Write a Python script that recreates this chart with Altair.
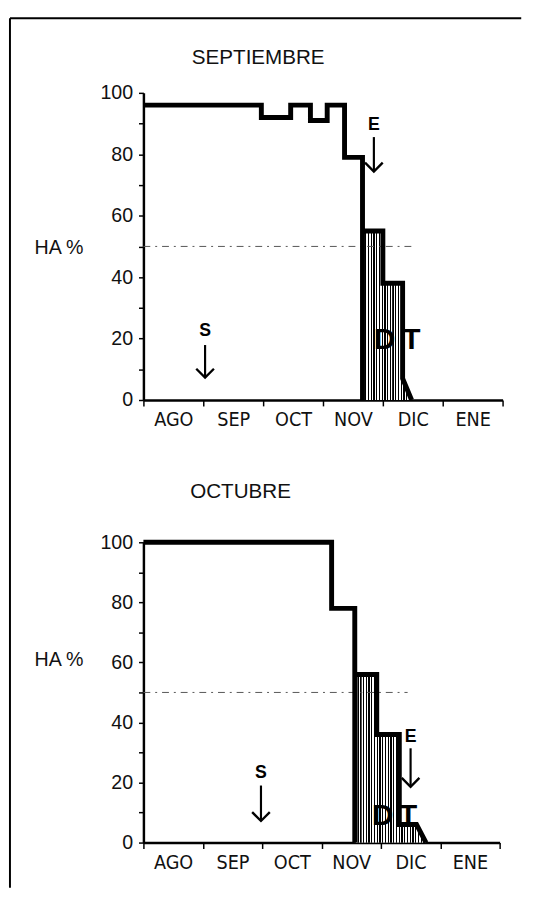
import json
import altair as alt
import pandas as pd

# ---------------- data ----------------
MONTHS = ["AGO", "SEP", "OCT", "NOV", "DIC", "ENE"]
MONTH_EDGES = [0, 1, 2, 3, 4, 5, 6]
Y_TICKS = [0, 10, 20, 30, 40, 50, 60, 70, 80, 90, 100]
Y_LABEL = "HA %"

SEP_TITLE = "SEPTIEMBRE"
SEP_CURVE_X = [0, 1.97, 1.97, 2.46, 2.46, 2.79, 2.79, 3.07, 3.07, 3.36, 3.36, 3.66, 3.66, 3.66, 4.0, 4.0, 4.33, 4.33, 4.48]
SEP_CURVE_Y = [96, 96, 92, 92, 96, 96, 91, 91, 96, 96, 79, 79, 0, 55, 55, 38, 38, 7, 0]
SEP_DT_X = [3.66, 4.0, 4.0, 4.33, 4.33, 4.48]
SEP_DT_Y = [55, 55, 38, 38, 7, 0]
SEP_REF_LEVEL = [50]
SEP_REF_END = [4.5]
SEP_ARROW_TEXT = ["S", "E"]
SEP_ARROW_X = [1.03, 3.85]
SEP_ARROW_LABEL_Y = [22.4, 89.6]
SEP_ARROW_TOP_Y = [17.9, 85.6]
SEP_ARROW_TIP_Y = [7.3, 74.4]
SEP_LETTERS = ["D", "T"]
SEP_LETTER_X = [4.03, 4.48]
SEP_LETTER_Y = [19.5, 19.5]

OCT_TITLE = "OCTUBRE"
OCT_CURVE_X = [0, 3.17, 3.17, 3.56, 3.56, 3.56, 3.93, 3.93, 4.31, 4.31, 4.6, 4.76]
OCT_CURVE_Y = [100, 100, 78, 78, 0, 56, 56, 36, 36, 6, 6, 0]
OCT_DT_X = [3.56, 3.93, 3.93, 4.31, 4.31, 4.6, 4.76]
OCT_DT_Y = [56, 56, 36, 36, 6, 6, 0]
OCT_REF_LEVEL = [50]
OCT_REF_END = [4.45]
OCT_ARROW_TEXT = ["S", "E"]
OCT_ARROW_X = [1.98, 4.5]
OCT_ARROW_LABEL_Y = [23, 35]
OCT_ARROW_TOP_Y = [19, 31.4]
OCT_ARROW_TIP_Y = [7.2, 18.6]
OCT_LETTERS = ["D", "T"]
OCT_LETTER_X = [4.03, 4.46]
OCT_LETTER_Y = [8.8, 8.8]

# ---------------- style ----------------
SANS = "Liberation Sans, Arial, sans-serif"
NARROW = "Liberation Sans Narrow, DejaVu Sans Condensed, sans-serif"
CHEVRON = "M-1,-1L0,0L1,-1"


def hatch(n):
    stops = []
    for i in range(n):
        a = i / n
        b = (i + 0.45) / n
        c = (i + 1) / n
        stops += [
            alt.GradientStop(offset=round(a, 5), color="#000000"),
            alt.GradientStop(offset=round(b, 5), color="#000000"),
            alt.GradientStop(offset=round(b + 0.0005, 5), color="#ffffff"),
            alt.GradientStop(offset=round(c - 0.0005, 5), color="#ffffff"),
        ]
    return alt.LinearGradient(gradient="linear", stops=stops, x1=0, x2=1, y1=0, y2=0)


ONE = pd.DataFrame({"k": [0]})


def panel(w, h, curve_x, curve_y, dt_x, dt_y, ref_level, ref_end,
          arrow_text, arrow_x, arrow_label_y, arrow_top_y, arrow_tip_y,
          letters, letter_x, letter_y, title, title_xy, ha_y, frame_box, hatch_n):
    label_expr = json.dumps(MONTHS + [""]) + "[datum.value]"
    xaxis = alt.Axis(values=MONTH_EDGES, labelExpr=label_expr, labelOffset=w / 12.0,
                     labelAlign="center", labelFont=NARROW, labelFontSize=20,
                     labelColor="#111", labelPadding=4, tickSize=6, tickWidth=1.5,
                     tickColor="black", domainWidth=2.5, domainColor="black",
                     grid=False, title=None, labelFlush=False, labelOverlap=False)
    yaxis = alt.Axis(values=Y_TICKS, labelExpr="datum.value % 20 == 0 ? datum.label : ''",
                     labelFont=SANS, labelFontSize=20, labelColor="#111", labelPadding=6,
                     tickSize=5, tickWidth=1.5, tickColor="black", domainWidth=2.5,
                     domainColor="black", grid=False, title=None, labelOverlap=False)
    xs = alt.Scale(domain=[0, 6], nice=False, zero=False)
    ys = alt.Scale(domain=[0, 100], nice=False)
    X = alt.X("x:Q", scale=xs, axis=xaxis)
    Y = alt.Y("y:Q", scale=ys, axis=yaxis)

    curve = pd.DataFrame({"x": curve_x, "y": curve_y, "i": list(range(len(curve_x)))})
    dt = pd.DataFrame({"x": dt_x, "y": dt_y, "y0": [0] * len(dt_x)})
    ref = pd.DataFrame({"x": [0], "x2": ref_end, "y": ref_level})
    arrows = pd.DataFrame({"x": arrow_x, "y": arrow_top_y, "y2": arrow_tip_y,
                           "ly": arrow_label_y, "t": arrow_text, "tip": arrow_tip_y})
    lets = pd.DataFrame({"x": letter_x, "y": letter_y, "t": letters})

    layers = []
    # hatched D-T region: grey underlay + striped gradient
    layers.append(alt.Chart(dt).mark_area(color="#8c8c8c", opacity=1, interpolate="linear")
                  .encode(x=X, y=Y, y2="y0:Q"))
    layers.append(alt.Chart(dt).mark_area(color=hatch(hatch_n), opacity=1, interpolate="linear")
                  .encode(x=X, y=Y, y2="y0:Q"))
    layers.append(alt.Chart(ref).mark_rule(color="#555", strokeWidth=1, strokeDash=[7, 5, 2, 5])
                  .encode(x=X, x2="x2:Q", y=Y))
    layers.append(alt.Chart(curve).mark_line(color="black", strokeWidth=5, strokeJoin="miter",
                                              interpolate="linear")
                  .encode(x=X, y=Y, order=alt.Order("i:Q")))
    layers.append(alt.Chart(arrows).mark_rule(color="black", strokeWidth=2.2)
                  .encode(x=X, y=Y, y2="y2:Q"))
    layers.append(alt.Chart(arrows).mark_point(shape=CHEVRON, filled=False, color="black",
                                               strokeWidth=2.4, size=324, opacity=1)
                  .encode(x=X, y=alt.Y("tip:Q", scale=ys, axis=yaxis)))
    layers.append(alt.Chart(arrows).mark_text(font=SANS, fontSize=18, fontWeight="bold",
                                              color="black", baseline="middle", align="center")
                  .encode(x=X, y=alt.Y("ly:Q", scale=ys, axis=yaxis), text="t:N"))
    layers.append(alt.Chart(lets).mark_text(font=SANS, fontSize=30, fontWeight="bold",
                                            color="black", baseline="middle", align="center")
                  .encode(x=X, y=Y, text="t:N"))
    # title and y label
    layers.append(alt.Chart(ONE).mark_text(font=SANS, fontSize=21, color="#111",
                                           baseline="middle", align="center")
                  .encode(x=alt.value(title_xy[0]), y=alt.value(title_xy[1]), text=alt.value(title)))
    layers.append(alt.Chart(ONE).mark_text(font=SANS, fontSize=20, color="#111",
                                           baseline="middle", align="left")
                  .encode(x=alt.value(-111), y=alt.value(ha_y), text=alt.value(Y_LABEL)))
    # outer frame (left and top; right edge lies outside the picture)
    if frame_box:
        left, right, top, bottom = frame_box
        frame = dict(color="black", strokeWidth=2)
        layers.append(alt.Chart(ONE).mark_rule(**frame)
                      .encode(x=alt.value(left), y=alt.value(top), y2=alt.value(bottom)))
        layers.append(alt.Chart(ONE).mark_rule(**frame)
                      .encode(x=alt.value(left), x2=alt.value(right), y=alt.value(top)))
    return alt.layer(*layers).properties(width=w, height=h)


top = panel(366, 313, SEP_CURVE_X, SEP_CURVE_Y, SEP_DT_X, SEP_DT_Y, SEP_REF_LEVEL, SEP_REF_END,
            SEP_ARROW_TEXT, SEP_ARROW_X, SEP_ARROW_LABEL_Y, SEP_ARROW_TOP_Y, SEP_ARROW_TIP_Y,
            SEP_LETTERS, SEP_LETTER_X, SEP_LETTER_Y, SEP_TITLE, (117, -35), 158,
            (-136, 385, -76, 810), 18)

bottom = panel(363, 306, OCT_CURVE_X, OCT_CURVE_Y, OCT_DT_X, OCT_DT_Y, OCT_REF_LEVEL, OCT_REF_END,
               OCT_ARROW_TEXT, OCT_ARROW_X, OCT_ARROW_LABEL_Y, OCT_ARROW_TOP_Y, OCT_ARROW_TIP_Y,
               OCT_LETTERS, OCT_LETTER_X, OCT_LETTER_Y, OCT_TITLE, (99, -51), 120,
               None, 26)

chart = (alt.vconcat(top, bottom, spacing=145, bounds="flush")
         .properties(padding=0, background="white")
         .configure_view(stroke="transparent"))

chart.save("out.html", embed_options={"renderer": "svg", "actions": False})
